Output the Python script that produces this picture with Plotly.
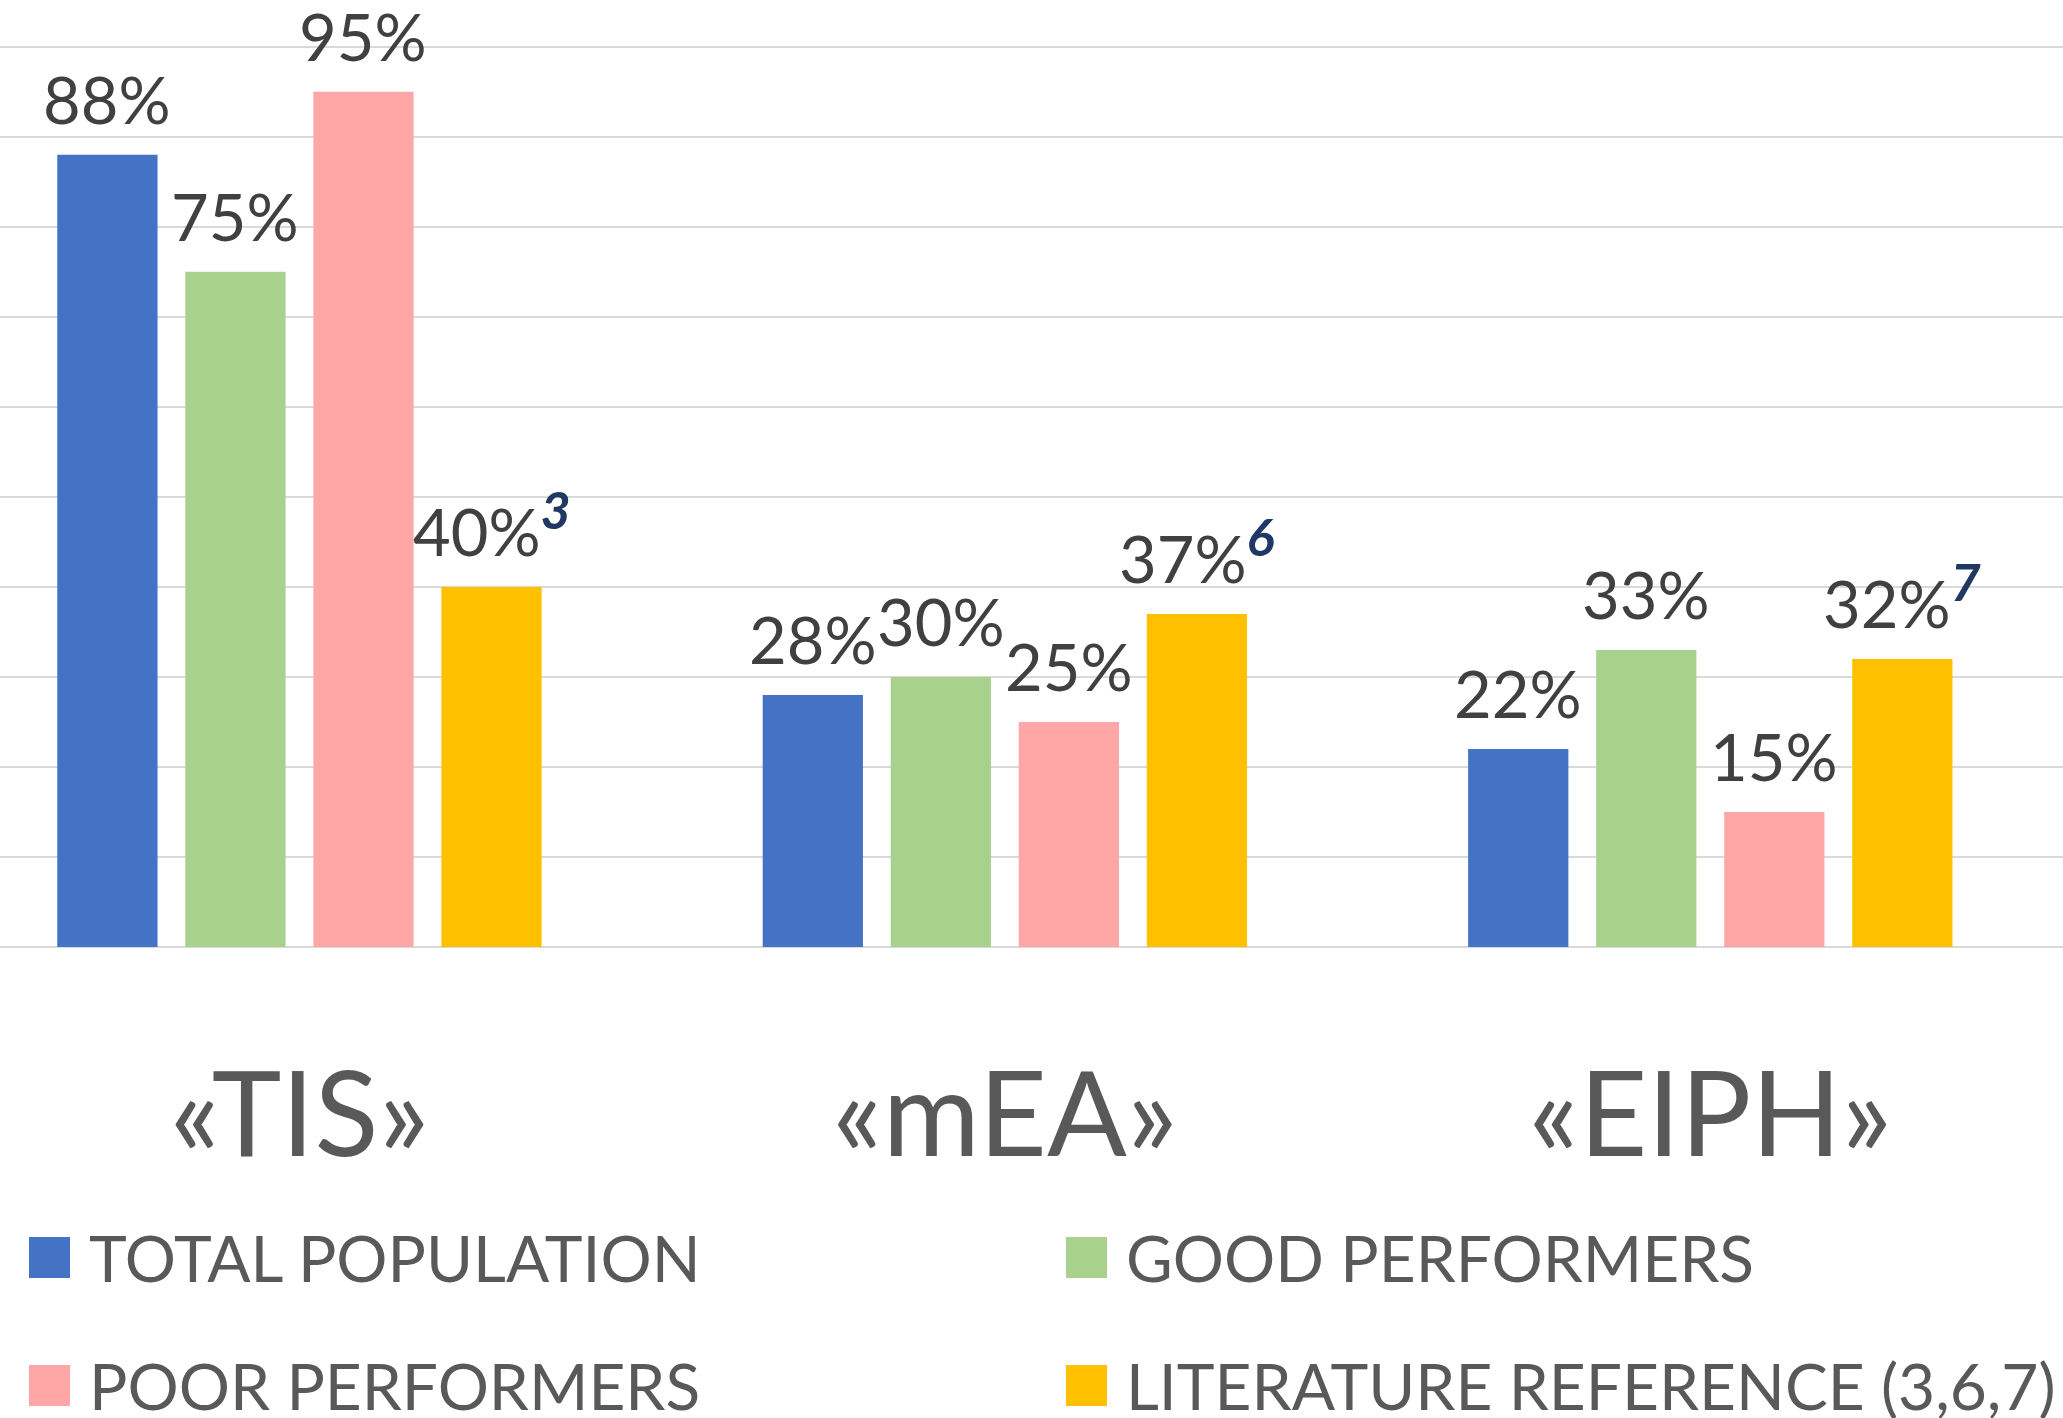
import plotly.graph_objects as go

# ---------------- data ----------------
categories = ["«TIS»", "«mEA»", "«EIPH»"]
series_names = ["TOTAL POPULATION", "GOOD PERFORMERS", "POOR PERFORMERS",
                "LITERATURE REFERENCE (3,6,7)"]
total_population = [0.88, 0.28, 0.22]
good_performers = [0.75, 0.30, 0.33]
poor_performers = [0.95, 0.25, 0.15]
literature_reference = [0.40, 0.37, 0.32]
literature_citations = ["3", "6", "7"]
series_colors = ["#4472C4", "#A9D18E", "#FFA6A6", "#FFC000"]

series_values = [total_population, good_performers, poor_performers, literature_reference]
series_sups = [None, None, None, literature_citations]

# ---------------- styling ----------------
W, H = 2063, 1418
Y_TOP = 1.003
BASE_PX = 946.7          # pixel row of the 0% baseline
UNIT_PX = 900.0          # pixels for 0..100%
M_B = H - BASE_PX
PLOT_H = UNIT_PX * Y_TOP
M_T = BASE_PX - PLOT_H
BARGAP = 0.274
BARGROUPGAP = 0.217
FONT = "Lato, 'Open Sans', sans-serif"
LABEL_COLOR = "#404040"
AXIS_TEXT = "#595959"
SUP_COLOR = "#1F3864"

fig = go.Figure()
for name, vals, col in zip(series_names, series_values, series_colors):
    fig.add_trace(go.Bar(
        name=name, x=categories, y=vals, marker=dict(color=col, line=dict(width=0)),
        showlegend=False, hoverinfo="x+y+name",
    ))

# data labels through annotations (positioned from data values)
n = len(series_values)
slot = (1 - BARGAP) / n
annotations = []
for si, (vals, sups) in enumerate(zip(series_values, series_sups)):
    off = (si - (n - 1) / 2) * slot
    for ci, v in enumerate(vals):
        txt = f"{round(v * 100)}%"
        if sups is not None:
            txt += (f"<sup><b><i><span style='color:{SUP_COLOR};font-size:52px'>"
                    f"{sups[ci]}</span></i></b></sup>")
        annotations.append(dict(
            x=ci + off, y=v, xref="x", yref="y", text=txt, showarrow=False,
            xanchor="center", yanchor="bottom", yshift=15,
            font=dict(family=FONT, size=65, color=LABEL_COLOR),
        ))

# manual legend (large square swatches)
def py(px):
    return (H - M_B - px) / PLOT_H

legend_cols_x = [29, 1066]
legend_rows_y = [1257, 1385]
sw = 41
shapes = []
for k, (name, col) in enumerate(zip(series_names, series_colors)):
    cx = legend_cols_x[k % 2]
    cy = legend_rows_y[k // 2]
    shapes.append(dict(
        type="rect", xref="paper", yref="paper",
        x0=cx / W, x1=(cx + sw) / W, y0=py(cy + sw / 2), y1=py(cy - sw / 2),
        fillcolor=col, line=dict(width=0),
    ))
    annotations.append(dict(
        x=(cx + sw + 17) / W, y=py(cy), xref="paper", yref="paper",
        text=name, showarrow=False, xanchor="left", yanchor="middle",
        font=dict(family=FONT, size=64, color=AXIS_TEXT),
    ))

fig.update_layout(
    width=W, height=H,
    barmode="group", bargap=BARGAP, bargroupgap=BARGROUPGAP,
    margin=dict(l=0, r=0, t=M_T, b=M_B, pad=0),
    plot_bgcolor="white", paper_bgcolor="white",
    font=dict(family=FONT, color=AXIS_TEXT),
    showlegend=False,
    xaxis=dict(
        range=[-0.4245, 2.5], showgrid=False, zeroline=False, showline=False,
        ticks="outside", ticklen=66, tickcolor="rgba(0,0,0,0)",
        tickfont=dict(family=FONT, size=118, color=AXIS_TEXT),
        fixedrange=True,
    ),
    yaxis=dict(
        range=[0, Y_TOP], tick0=0, dtick=0.1, showticklabels=False,
        showgrid=True, gridcolor="#D9D9D9", gridwidth=2,
        zeroline=True, zerolinecolor="#D9D9D9", zerolinewidth=2,
        fixedrange=True,
    ),
    annotations=annotations,
    shapes=shapes,
)

fig.write_html(
    "out.html",
    config={"displayModeBar": False},
    post_script="document.body.style.margin='0';document.body.style.overflow='hidden';",
)
